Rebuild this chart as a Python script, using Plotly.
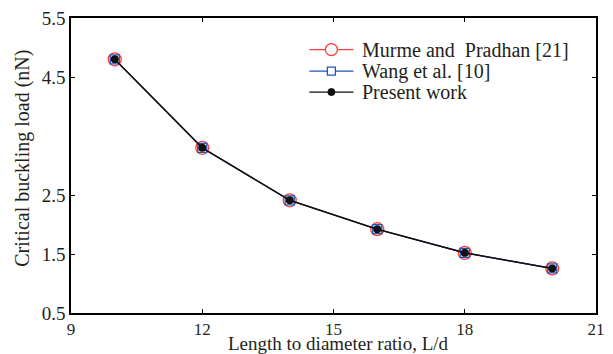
import plotly.graph_objects as go

# Length-to-diameter ratio and critical buckling load (nN)
ratio = [10, 12, 14, 16, 18, 20]
murme_pradhan = [4.80, 3.30, 2.41, 1.92, 1.52, 1.255]
wang_et_al = [4.80, 3.30, 2.41, 1.92, 1.52, 1.255]
present_work = [4.80, 3.30, 2.41, 1.92, 1.52, 1.255]

series_names = ["Murme and  Pradhan [21]", "Wang et al. [10]", "Present work"]

x_ticks = [9, 12, 15, 18, 21]
y_ticks = [0.5, 1.5, 2.5, 4.5, 5.5]
y_tick_text = ["0.5", "1.5", "2.5", "4.5", "5.5"]

FONT = "Liberation Serif"
INK = "#231f20"
RED = "#ff3b3b"
BLUE = "#2255bb"
BLACK = "#111111"

fig = go.Figure()
fig.add_trace(go.Scatter(
    x=ratio, y=murme_pradhan, name=series_names[0], mode="lines+markers",
    line=dict(color=RED, width=1.2),
    marker=dict(symbol="circle-open", size=13, color=RED, line=dict(width=1.3)),
))
fig.add_trace(go.Scatter(
    x=ratio, y=wang_et_al, name=series_names[1], mode="lines+markers",
    line=dict(color=BLUE, width=1.2),
    marker=dict(symbol="square-open", size=9, color=BLUE, line=dict(width=1.3)),
))
fig.add_trace(go.Scatter(
    x=ratio, y=present_work, name=series_names[2], mode="lines+markers",
    line=dict(color=BLACK, width=1.5),
    marker=dict(symbol="circle", size=8, color=BLACK),
))

# Hand-built legend (tighter line spacing than the built-in legend)
shapes = []
annotations = []
leg_x0, leg_x1, leg_text_x = 0.454, 0.538, 0.550
leg_rows = [0.893, 0.820, 0.749]
colors = [RED, BLUE, BLACK]
for name, col, yy in zip(series_names, colors, leg_rows):
    shapes.append(dict(type="line", xref="paper", yref="paper",
                       x0=leg_x0, x1=leg_x1, y0=yy, y1=yy,
                       line=dict(color=col, width=1.3)))
    annotations.append(dict(text=name, xref="paper", yref="paper",
                            x=leg_text_x, y=yy, xanchor="left", yanchor="middle",
                            showarrow=False, font=dict(family=FONT, size=20, color=INK)))
xc = (leg_x0 + leg_x1) / 2
# red open circle
shapes.append(dict(type="circle", xref="paper", yref="paper",
                   xsizemode="pixel", ysizemode="pixel", xanchor=xc, yanchor=leg_rows[0],
                   x0=-6, x1=6, y0=-6, y1=6, fillcolor="white",
                   line=dict(color=RED, width=1.3)))
# blue open square
shapes.append(dict(type="rect", xref="paper", yref="paper",
                   xsizemode="pixel", ysizemode="pixel", xanchor=xc, yanchor=leg_rows[1],
                   x0=-4, x1=4, y0=-4, y1=4, fillcolor="white",
                   line=dict(color=BLUE, width=1.3)))
# black filled dot
shapes.append(dict(type="circle", xref="paper", yref="paper",
                   xsizemode="pixel", ysizemode="pixel", xanchor=xc, yanchor=leg_rows[2],
                   x0=-3.5, x1=3.5, y0=-3.5, y1=3.5, fillcolor=BLACK,
                   line=dict(color=BLACK, width=1)))

# Axis titles
annotations.append(dict(text="Length to diameter ratio, L/d", xref="paper", yref="paper",
                        x=0.509, y=-0.103, xanchor="center", yanchor="middle", borderpad=0,
                        showarrow=False, font=dict(family=FONT, size=19, color=INK)))
annotations.append(dict(text="Critical buckling load (nN)", xref="paper", yref="paper",
                        x=-0.094, y=0.525, xanchor="center", yanchor="middle", textangle=-90,
                        showarrow=False, font=dict(family=FONT, size=20, color=INK)))

axis_common = dict(
    showgrid=False, zeroline=False, showline=True, linecolor="black", linewidth=1.5,
    mirror="ticks", ticks="inside", ticklen=4, tickcolor="black", tickwidth=1,
)

fig.update_layout(
    width=613, height=354,
    margin=dict(l=71, r=8, t=15, b=41),
    paper_bgcolor="white", plot_bgcolor="white",
    font=dict(family=FONT, size=19, color=INK),
    showlegend=False,
    shapes=shapes,
    annotations=annotations,
    xaxis=dict(range=[9, 21], tickvals=x_ticks,
               tickfont=dict(family=FONT, size=17, color=INK), **axis_common),
    yaxis=dict(range=[0.5, 5.5], tickvals=y_ticks, ticktext=y_tick_text,
               tickfont=dict(family=FONT, size=19, color=INK), **axis_common),
)

fig.write_html("out.html")
